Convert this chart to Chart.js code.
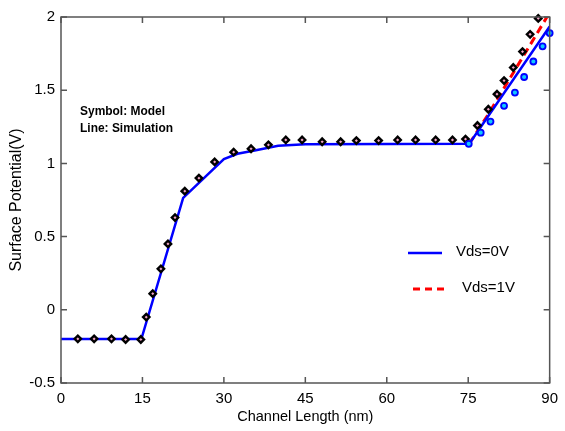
<!DOCTYPE html>
<html><head><meta charset="utf-8">
<script src="https://cdn.jsdelivr.net/npm/chart.js@4/dist/chart.umd.min.js"></script>
<style>html,body{margin:0;padding:0;background:#fff;}canvas{display:block;}</style>
</head><body>
<canvas id="c" width="565" height="431"></canvas>
<script>
// Model (symbols): diamonds = Vds=1V (coincides with Vds=0V before 75 nm)
const modelX = [3.1, 6.1, 9.3, 11.9, 14.7, 15.7, 16.9, 18.4, 19.7, 21.0, 22.8, 25.4, 28.3, 31.8, 35.0, 38.2, 41.4, 44.4, 48.1, 51.5, 54.4, 58.5, 62.0, 65.3, 69.0, 72.1, 74.5, 76.7, 78.7, 80.3, 81.6, 83.3, 85.0, 86.4, 87.9];
const modelY = [-0.198, -0.198, -0.198, -0.203, -0.203, -0.05, 0.11, 0.28, 0.45, 0.63, 0.81, 0.90, 1.01, 1.077, 1.10, 1.127, 1.16, 1.16, 1.148, 1.148, 1.156, 1.156, 1.16, 1.16, 1.16, 1.16, 1.166, 1.259, 1.37, 1.473, 1.566, 1.655, 1.764, 1.882, 1.99];
// Model (symbols): circles = Vds=0V beyond 75 nm
const model0X = [75.1, 77.3, 79.1, 81.6, 83.6, 85.3, 87.0, 88.7, 90.0];
const model0Y = [1.134, 1.21, 1.286, 1.393, 1.484, 1.59, 1.696, 1.80, 1.89];
// Simulation lines
const sim0X = [0, 14.8, 22.5, 30.0, 32.5, 35.9, 40, 45, 75.2, 90];
const sim0Y = [-0.2, -0.2, 0.765, 1.03, 1.066, 1.09, 1.12, 1.13, 1.134, 1.935];
const sim1X = [75.2, 78.6, 89.5];
const sim1Y = [1.134, 1.33, 2.0];
const xTicks = [0, 15, 30, 45, 60, 75, 90];
const yTicks = [-0.5, 0, 0.5, 1, 1.5, 2];
const yTickLabels = ['-0.5', '0', '0.5', '1', '1.5', '2'];
const seriesNames = ['Vds=0V', 'Vds=1V'];
const noteLines = ['Symbol: Model', 'Line: Simulation'];
const xTitle = 'Channel Length (nm)';
const yTitle = 'Surface Potential(V)';

const pts = (xs, ys) => xs.map((x, i) => ({x, y: ys[i]}));
const FONT = "'Liberation Sans', Arial, sans-serif";

const frame = {
  id: 'frame',
  afterDatasetsDraw(chart) {
    const {ctx, chartArea: a, scales: {x, y}} = chart;
    ctx.save();
    ctx.strokeStyle = '#555';
    ctx.lineWidth = 1.5;
    ctx.strokeRect(a.left, a.top, a.right - a.left, a.bottom - a.top);
    ctx.beginPath();
    const L = 6;
    xTicks.forEach(v => {
      const px = x.getPixelForValue(v);
      ctx.moveTo(px, a.bottom); ctx.lineTo(px, a.bottom - L);
      ctx.moveTo(px, a.top); ctx.lineTo(px, a.top + L);
    });
    yTicks.forEach(v => {
      const py = y.getPixelForValue(v);
      ctx.moveTo(a.left, py); ctx.lineTo(a.left + L, py);
      ctx.moveTo(a.right, py); ctx.lineTo(a.right - L, py);
    });
    ctx.stroke();
    // notes
    ctx.fillStyle = '#000';
    ctx.font = 'bold 13px ' + FONT;
    ctx.textBaseline = 'alphabetic';
    ctx.textAlign = 'left';
    ctx.save(); ctx.translate(80, 115); ctx.scale(0.92, 1); ctx.fillText(noteLines[0], 0, 0); ctx.restore();
    ctx.save(); ctx.translate(80, 132); ctx.scale(0.92, 1); ctx.fillText(noteLines[1], 0, 0); ctx.restore();
    // legend
    ctx.lineWidth = 2.5;
    ctx.strokeStyle = '#0000ff';
    ctx.beginPath(); ctx.moveTo(408, 253); ctx.lineTo(442, 253); ctx.stroke();
    ctx.strokeStyle = '#ff0000';
    ctx.lineWidth = 3;
    ctx.setLineDash([7, 5]);
    ctx.beginPath(); ctx.moveTo(413, 289); ctx.lineTo(445, 289); ctx.stroke();
    ctx.setLineDash([]);
    ctx.font = '15px ' + FONT;
    ctx.fillText(seriesNames[0], 456, 256);
    ctx.fillText(seriesNames[1], 462, 292);
    ctx.restore();
  }
};

new Chart(document.getElementById('c'), {
  type: 'scatter',
  data: {
    datasets: [
      {data: pts(model0X, model0Y), pointStyle: 'circle', pointRadius: 3, pointBorderWidth: 1.8,
       borderColor: '#0000ff', backgroundColor: '#10c8ff', clip: false, showLine: false},
      {data: pts(modelX, modelY), pointStyle: 'rectRot', pointRadius: 3.2, pointBorderWidth: 2.4,
       borderColor: '#000', backgroundColor: '#f4a6c8', clip: false, showLine: false},
      {data: pts(sim0X, sim0Y), showLine: true, pointRadius: 0, borderColor: '#0000ff', borderWidth: 2.5,
       tension: 0, backgroundColor: '#0000ff'},
      {data: pts(sim1X, sim1Y), showLine: true, pointRadius: 0, borderColor: '#ff0000', borderWidth: 3,
       borderDash: [8, 5], tension: 0, backgroundColor: '#ff0000'}
    ]
  },
  options: {
    responsive: false,
    animation: false,
    events: [],
    layout: {padding: {left: 0, top: 17, right: 9, bottom: 0}},
    plugins: {legend: {display: false}, tooltip: {enabled: false}},
    scales: {
      x: {
        type: 'linear', min: 0, max: 90,
        afterBuildTicks: s => { s.ticks = xTicks.map(v => ({value: v})); },
        afterFit: s => { s.height = 48; },
        grid: {display: false, drawTicks: false}, border: {display: false},
        ticks: {color: '#000', padding: 7, font: {family: FONT, size: 15}, maxRotation: 0, autoSkip: false},
        title: {display: true, text: xTitle, color: '#000', font: {family: FONT, size: 14.5}, padding: {top: 0, bottom: 5}}
      },
      y: {
        type: 'linear', min: -0.5, max: 2,
        afterBuildTicks: s => { s.ticks = yTicks.map(v => ({value: v})); },
        afterFit: s => { s.width = 61; },
        grid: {display: false, drawTicks: false}, border: {display: false},
        ticks: {color: '#000', padding: 6, font: {family: FONT, size: 15}, autoSkip: false,
                callback: (v) => yTickLabels[yTicks.indexOf(v)] ?? String(v)},
        title: {display: true, text: yTitle, color: '#000', font: {family: FONT, size: 16}, padding: {top: 7, bottom: 0}}
      }
    }
  },
  plugins: [frame]
});
</script>
</body></html>
